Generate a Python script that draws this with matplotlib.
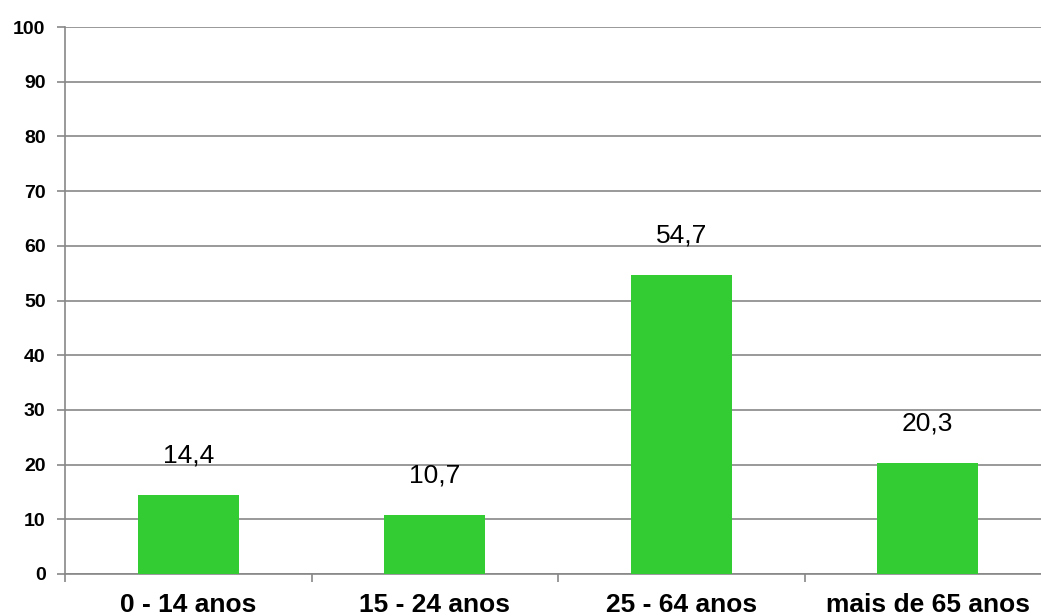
import matplotlib
matplotlib.use("Agg")
import matplotlib.pyplot as plt

categories = ["0 - 14 anos", "15 - 24 anos", "25 - 64 anos", "mais de 65 anos"]
values = [14.4, 10.7, 54.7, 20.3]
value_labels = ["14,4", "10,7", "54,7", "20,3"]
yticks = [0, 10, 20, 30, 40, 50, 60, 70, 80, 90, 100]

plt.rcParams["font.family"] = ["Liberation Sans", "DejaVu Sans"]

W, H = 1041, 616
fig = plt.figure(figsize=(W / 100, H / 100), dpi=100)
left, right, top, bottom = 65, 1051, 27, 574
ax = fig.add_axes([left / W, (H - bottom) / H, (right - left) / W, (bottom - top) / H])

grid_color = "#878787"
x = list(range(len(categories)))
bars = ax.bar(x, values, width=0.41, color="#33CC33", zorder=3)

ax.set_xlim(-0.5, len(categories) - 0.5)
ax.set_ylim(0, 100)
ax.set_yticks(yticks)
ax.set_yticklabels([str(t) for t in yticks], fontsize=14, fontweight="bold")
ax.yaxis.grid(True, color=grid_color, linewidth=1.2, zorder=0)
ax.set_axisbelow(True)

# category ticks sit on the boundaries between groups
ax.set_xticks([i + 0.5 for i in range(len(categories) - 1)] + [-0.5])
ax.set_xticklabels([])
ax.set_xticks(x, minor=True)
ax.set_xticklabels(categories, minor=True, fontsize=19, fontweight="bold")
ax.tick_params(axis="x", which="minor", length=0, pad=14)
ax.tick_params(axis="x", which="major", length=6, width=1.2, color=grid_color)
ax.tick_params(axis="y", length=6, width=1.2, color=grid_color, pad=8)

for s in ["top", "right"]:
    ax.spines[s].set_visible(False)
for s in ["left", "bottom"]:
    ax.spines[s].set_color(grid_color)
    ax.spines[s].set_linewidth(1.2)

for rect, lab in zip(bars, value_labels):
    ax.annotate(lab, (rect.get_x() + rect.get_width() / 2, rect.get_height()),
                xytext=(0, 20), textcoords="offset points",
                ha="center", va="bottom", fontsize=19)

fig.savefig("out.png", dpi=100)
